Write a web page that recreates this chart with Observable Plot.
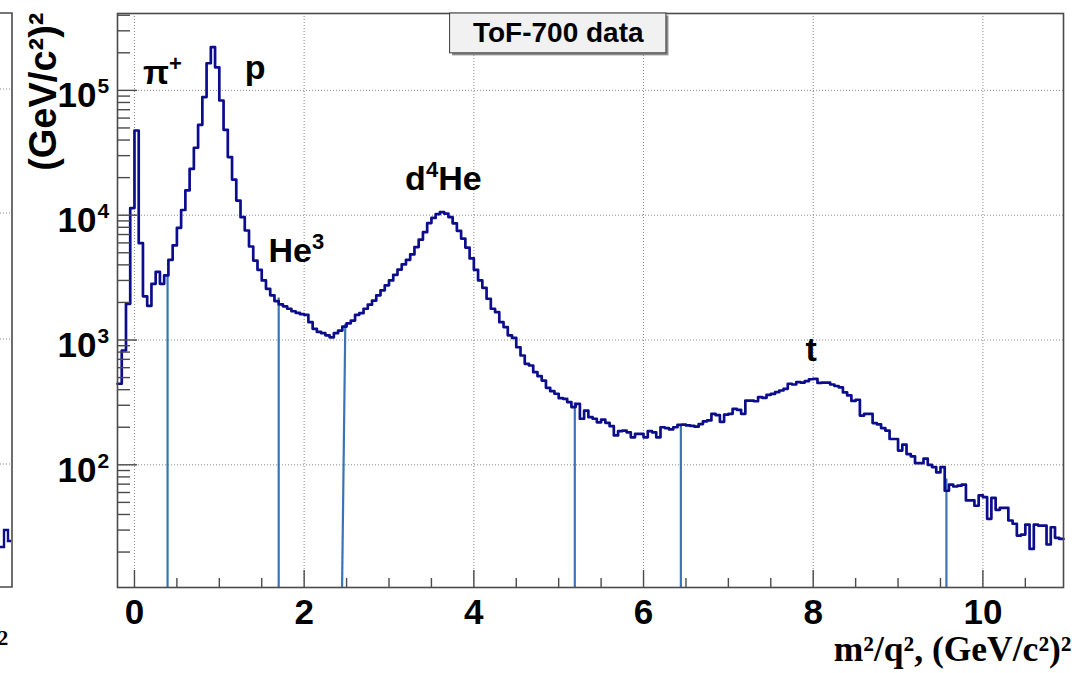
<!DOCTYPE html>
<html><head><meta charset="utf-8">
<script src="https://cdn.jsdelivr.net/npm/d3@7"></script>
<script src="https://cdn.jsdelivr.net/npm/@observablehq/plot@0.6"></script>
<style>
html,body{margin:0;padding:0;background:#fff;}
#chart{width:1072px;height:673px;overflow:hidden;}
</style></head><body><div id="chart"></div>
<script>
// ---- histogram data (bin width 0.05, first bin starts at -0.2) ----
const binStart = -0.2;
const binWidth = 0.05;
const counts = [
  446, 824, 1950, 11400, 47700, 5970, 2240, 1880, 2820, 3520,
  2820, 3290, 4390, 5720, 7920, 11000, 15800, 23500, 34700, 53000,
  88300, 165000, 222000, 153000, 83000, 48300, 29200, 19300, 13100, 9640,
  7540, 5610, 4330, 3650, 3000, 2570, 2280, 2050, 1930, 1860,
  1780, 1700, 1650, 1610, 1590, 1390, 1230, 1160, 1135, 1090,
  1050, 1135, 1190, 1280, 1360, 1430, 1590, 1640, 1780, 1920,
  2070, 2280, 2500, 2740, 3000, 3330, 3670, 4030, 4390, 4850,
  5550, 6360, 7310, 8640, 9500, 10200, 10600, 10300, 9650, 8600,
  7500, 6500, 5500, 4500, 3650, 3000, 2620, 2140, 1780, 1670,
  1390, 1270, 1090, 1040, 875, 751, 644, 625, 552, 513,
  473, 414, 389, 371, 342, 338, 318, 290, 308, 234,
  272, 241, 234, 219, 230, 217, 204, 172, 186, 188,
  182, 166, 177, 177, 166, 186, 182, 166, 200, 197,
  192, 200, 209, 210, 207, 205, 202, 212, 223, 227,
  256, 250, 221, 252, 256, 281, 276, 256, 327, 327,
  323, 348, 344, 364, 370, 382, 394, 406, 446, 440,
  459, 456, 468, 485, 489, 453, 455, 455, 440, 428,
  418, 380, 360, 325, 332, 248, 256, 256, 216, 211,
  197, 188, 161, 161, 130, 145, 122, 117, 103, 103,
  112, 100, 96, 87, 96, 62, 69.5, 67, 68, 69.5,
  51.8, 51.8, 47, 56.8, 55, 36.9, 54.4, 43.6, 45.2, 45.2,
  35.8, 33.7, 27.1, 27.6, 33.2, 21.2, 33.2, 32.6, 32.6, 23,
  31.6, 26, 25.5
];
const xDomain = [-0.2, 10.95];
const yDomain = [10.4, 413000];

// ---- ticks ----
const xMajorTicks = [0, 2, 4, 6, 8, 10];
const xTickLabels = ["0", "2", "4", "6", "8", "10"];
const xMinorTicks = [0.5, 1, 1.5, 2.5, 3, 3.5, 4.5, 5, 5.5, 6.5, 7, 7.5, 8.5, 9, 9.5, 10.5];
const yMajorTicks = [100, 1000, 10000, 100000];
const yTickExponents = ["2", "3", "4", "5"];
const yMinorTicks = [20, 30, 40, 50, 60, 70, 80, 90,
  200, 300, 400, 500, 600, 700, 800, 900,
  2000, 3000, 4000, 5000, 6000, 7000, 8000, 9000,
  20000, 30000, 40000, 50000, 60000, 70000, 80000, 90000,
  200000, 300000, 400000];

// ---- cut lines (selection boundaries) ----
const cutX1 = [0.39, 1.70, 2.447, 5.19, 6.44, 9.57];
const cutX2 = [0.39, 1.70, 2.485, 5.19, 6.44, 9.57];
const cutTop = [3290, 2190, 1350, 316, 205, 77.6];

// ---- peak labels (^{..} marks a superscript) ----
const peakLabels = ["π^{+}", "p", "He^{3}", "d^{4}He", "t"];
const peakLabelX = [0.10, 1.30, 1.58, 3.19, 7.91];
const peakLabelY = [113000, 124000, 4250, 15800, 673];

// ---- title box ----
const titleText = "ToF-700 data";
const titleBoxX = [3.72, 6.27];
const titleBoxY = [198000, 413000];
const titleY = 286000;

const xTitle = "m²/q², (GeV/c²)²";
const yTitle = "(GeV/c²)²";

const histPoints = counts.map((c, i) => ({x: binStart + i * binWidth, y: c}));
histPoints.push({x: binStart + counts.length * binWidth, y: counts[counts.length - 1]});

const sans = "'Liberation Sans', Arial, Helvetica, sans-serif";
const serif = "'Liberation Serif', 'Times New Roman', serif";

const chart = Plot.plot({
  width: 1072,
  height: 673,
  marginLeft: 117,
  marginRight: 9,
  marginTop: 13,
  marginBottom: 86,
  style: {background: "white", fontFamily: sans},
  x: {domain: xDomain, axis: null},
  y: {type: "log", domain: yDomain, axis: null},
  marks: [
    // grid
    Plot.ruleX(xMajorTicks, {x: d => d, stroke: "#8a8a8a", strokeWidth: 1, strokeDasharray: "1,2"}),
    Plot.ruleY(yMajorTicks, {y: d => d, stroke: "#8a8a8a", strokeWidth: 1, strokeDasharray: "1,2"}),
    // cut lines
    Plot.link(cutTop, {x1: cutX1, x2: cutX2, y1: cutTop.map(() => yDomain[0]), y2: cutTop,
      stroke: "#3b74b6", strokeWidth: 2.2}),
    // histogram
    Plot.line(histPoints, {x: "x", y: "y", curve: "step-after", stroke: "#0b0d8c", strokeWidth: 2.7}),
    // frame
    Plot.frame({stroke: "#4a4a4a", strokeWidth: 1.6}),
    // ticks
    Plot.axisX(xMajorTicks, {anchor: "bottom", tickSize: 17, dy: -17, tickFormat: () => "", label: null, stroke: "#4a4a4a", strokeWidth: 1.4}),
    Plot.axisX(xMinorTicks, {anchor: "bottom", tickSize: 9, dy: -9, tickFormat: () => "", label: null, stroke: "#4a4a4a", strokeWidth: 1.4}),
    Plot.axisY(yMajorTicks, {anchor: "left", tickSize: 20, dx: 20, tickFormat: () => "", label: null, stroke: "#4a4a4a", strokeWidth: 1.4}),
    Plot.axisY(yMinorTicks, {anchor: "left", tickSize: 13, dx: 13, tickFormat: () => "", label: null, stroke: "#4a4a4a", strokeWidth: 1.4}),
    // tick labels
    Plot.text(xMajorTicks, {x: d => d, frameAnchor: "bottom", text: (d, i) => xTickLabels[i],
      lineAnchor: "bottom", dy: 36, fontSize: 35, fontWeight: "bold", fill: "black"}),
    Plot.text(yMajorTicks, {y: d => d, frameAnchor: "left", text: () => "10", textAnchor: "end",
      lineAnchor: "bottom", dx: -21, dy: 17, fontSize: 35, fontWeight: "bold", fill: "black"}),
    Plot.text(yMajorTicks, {y: d => d, frameAnchor: "left", text: (d, i) => yTickExponents[i], textAnchor: "start",
      lineAnchor: "bottom", dx: -20, dy: 3, fontSize: 21, fontWeight: "bold", fill: "black"}),
    // axis titles
    Plot.text([xTitle], {frameAnchor: "bottom-right", text: d => d, textAnchor: "end", lineAnchor: "bottom",
      dx: 8, dy: 73, fontFamily: serif, fontSize: 35.5, fontWeight: "bold", fill: "black"}),
    Plot.text([yTitle], {frameAnchor: "top-left", text: d => d, rotate: -90, textAnchor: "end", lineAnchor: "bottom",
      dx: -62, dy: -1, fontSize: 38, fontWeight: "bold", fill: "black"}),
    // peak labels
    Plot.text(peakLabels, {x: (d, i) => peakLabelX[i], y: (d, i) => peakLabelY[i], text: d => d,
      textAnchor: "start", lineAnchor: "bottom", fontSize: 34, fontWeight: "bold", fill: "black"}),
    // title box
    Plot.rect([titleText], {x1: titleBoxX[0], x2: titleBoxX[1], y1: titleBoxY[0], y2: titleBoxY[1],
      dx: 2.5, dy: 2.5, fill: "#8c8c8c"}),
    Plot.rect([titleText], {x1: titleBoxX[0], x2: titleBoxX[1], y1: titleBoxY[0], y2: titleBoxY[1],
      fill: "#f1f1f1", stroke: "#3a3a3a", strokeWidth: 1}),
    Plot.text([titleText], {x: (titleBoxX[0] + titleBoxX[1]) / 2, y: titleY, text: d => d,
      lineAnchor: "middle", fontSize: 28, fontWeight: "bold", fill: "black"})
  ]
});

document.getElementById("chart").appendChild(chart);

// turn "^{..}" markers into real superscripts (tspans)
function supify(root, fontPx) {
  const NS = "http://www.w3.org/2000/svg";
  root.querySelectorAll("text").forEach(t => {
    const s = t.textContent;
    if (!s.includes("^{")) return;
    const parts = s.split(/\^\{([^}]*)\}/);
    while (t.firstChild) t.removeChild(t.firstChild);
    let raised = false;
    const size = Math.round(fontPx * 0.64);
    const shift = Math.round(fontPx * 0.38);
    parts.forEach((p, i) => {
      if (!p) return;
      const ts = document.createElementNS(NS, "tspan");
      ts.textContent = p;
      if (i % 2 === 1) {
        ts.setAttribute("font-size", size);
        ts.setAttribute("dy", -shift);
        raised = true;
      } else if (raised) {
        ts.setAttribute("dy", shift);
        raised = false;
      }
      t.appendChild(ts);
    });
  });
}
supify(chart, 34);

// fragment of the neighbouring (cropped) panel at the far left
const svg = d3.select(chart);
const g = svg.append("g").attr("class", "neighbour-panel");
g.append("path").attr("d", "M0,13H12V587H0").attr("fill", "none").attr("stroke", "#4a4a4a").attr("stroke-width", 1.6);
[89, 213, 339, 464].forEach(y => g.append("line").attr("x1", 0).attr("x2", 11).attr("y1", y).attr("y2", y)
  .attr("stroke", "#8a8a8a").attr("stroke-dasharray", "1,2"));
g.append("path").attr("d", "M0,547H4V530H8V541H11").attr("fill", "none").attr("stroke", "#0b0d8c").attr("stroke-width", 2.4);
g.append("text").attr("x", 3).attr("y", 645).attr("font-family", serif).attr("font-weight", "bold")
  .attr("font-size", 21).text("2");
</script>
</body></html>
